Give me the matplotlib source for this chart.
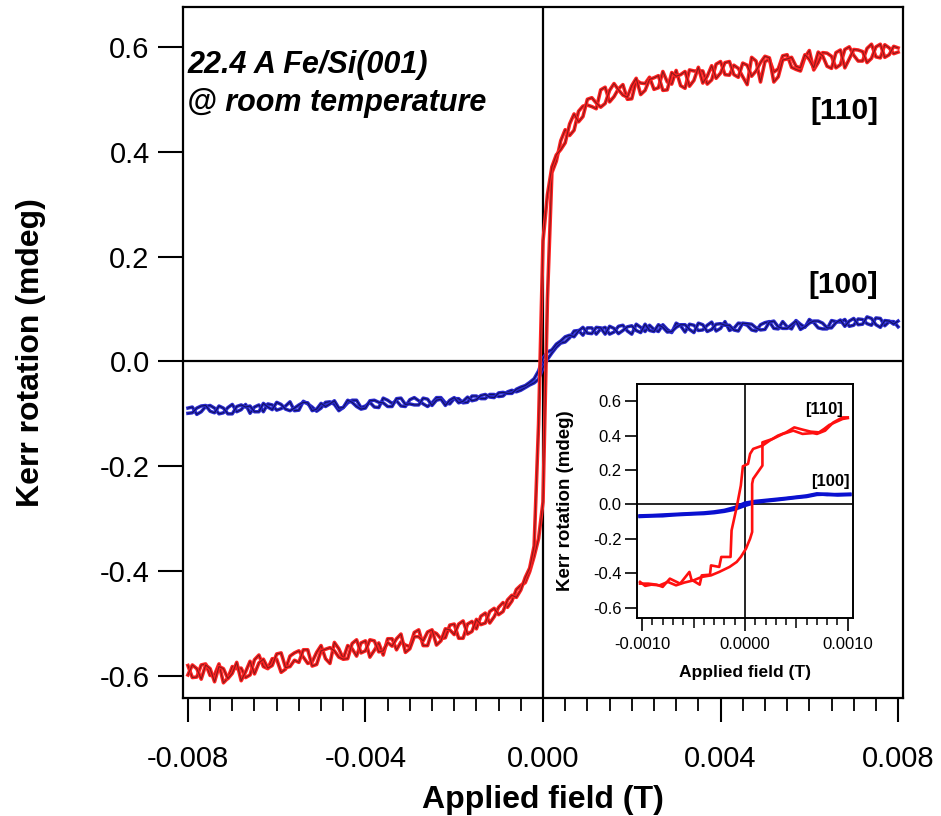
import matplotlib
matplotlib.use("Agg")
import matplotlib.pyplot as plt
import matplotlib.patheffects as pe
from matplotlib.ticker import MultipleLocator, FixedLocator

plt.rcParams["font.family"] = ["Liberation Sans", "DejaVu Sans"]

# ---------------- main panel data (field in mT) ----------------
main_field_mT = [-8.0, -7.9, -7.8, -7.7, -7.6, -7.5, -7.4, -7.3, -7.2, -7.1,
                 -7.0, -6.9, -6.8, -6.7, -6.6, -6.5, -6.4, -6.3, -6.2, -6.1,
                 -6.0, -5.9, -5.8, -5.7, -5.6, -5.5, -5.4, -5.3, -5.2, -5.1,
                 -5.0, -4.9, -4.8, -4.7, -4.6, -4.5, -4.4, -4.3, -4.2, -4.1,
                 -4.0, -3.9, -3.8, -3.7, -3.6, -3.5, -3.4, -3.3, -3.2, -3.1,
                 -3.0, -2.9, -2.8, -2.7, -2.6, -2.5, -2.4, -2.3, -2.2, -2.1,
                 -2.0, -1.9, -1.8, -1.7, -1.6, -1.5, -1.4, -1.3, -1.2, -1.1,
                 -1.0, -0.9, -0.8, -0.7, -0.6, -0.5, -0.4, -0.3, -0.2,
                 -0.1, 0.0, 0.1,
                 0.2, 0.3, 0.4, 0.5, 0.6, 0.7, 0.8, 0.9, 1.0,
                 1.1, 1.2, 1.3, 1.4, 1.5, 1.6, 1.7, 1.8, 1.9, 2.0,
                 2.1, 2.2, 2.3, 2.4, 2.5, 2.6, 2.7, 2.8, 2.9, 3.0,
                 3.1, 3.2, 3.3, 3.4, 3.5, 3.6, 3.7, 3.8, 3.9, 4.0,
                 4.1, 4.2, 4.3, 4.4, 4.5, 4.6, 4.7, 4.8, 4.9, 5.0,
                 5.1, 5.2, 5.3, 5.4, 5.5, 5.6, 5.7, 5.8, 5.9, 6.0,
                 6.1, 6.2, 6.3, 6.4, 6.5, 6.6, 6.7, 6.8, 6.9, 7.0,
                 7.1, 7.2, 7.3, 7.4, 7.5, 7.6, 7.7, 7.8, 7.9, 8.0]

red110_up = [-0.580, -0.603, -0.602, -0.579, -0.577, -0.599, -0.598, -0.577, -0.613, -0.604,
             -0.582, -0.586, -0.585, -0.603, -0.598, -0.569, -0.560, -0.582, -0.586, -0.567,
             -0.568, -0.593, -0.587, -0.562, -0.556, -0.552, -0.564, -0.576, -0.573, -0.555,
             -0.542, -0.567, -0.576, -0.536, -0.548, -0.567, -0.542, -0.548, -0.562, -0.537,
             -0.533, -0.564, -0.551, -0.537, -0.560, -0.529, -0.529, -0.550, -0.535, -0.541,
             -0.544, -0.517, -0.512, -0.542, -0.542, -0.515, -0.519, -0.529, -0.527, -0.503,
             -0.501, -0.528, -0.528, -0.501, -0.496, -0.510, -0.486, -0.480, -0.499, -0.487,
             -0.469, -0.460, -0.469, -0.457, -0.435, -0.427, -0.422, -0.401, -0.372,
             -0.338, -0.268, 0.120,
             0.360, 0.382, 0.421, 0.442, 0.431, 0.441, 0.477, 0.487, 0.489,
             0.486, 0.482, 0.518, 0.523, 0.495, 0.505, 0.520, 0.528, 0.500, 0.501,
             0.536, 0.531, 0.530, 0.542, 0.519, 0.522, 0.553, 0.533, 0.529, 0.555,
             0.526, 0.521, 0.556, 0.554, 0.554, 0.554, 0.529, 0.537, 0.567, 0.572,
             0.547, 0.546, 0.565, 0.559, 0.543, 0.528, 0.580, 0.573, 0.533, 0.572,
             0.576, 0.552, 0.558, 0.583, 0.585, 0.561, 0.557, 0.554, 0.580, 0.593,
             0.556, 0.570, 0.589, 0.588, 0.582, 0.560, 0.566, 0.595, 0.600, 0.584,
             0.573, 0.573, 0.597, 0.605, 0.581, 0.579, 0.604, 0.598, 0.587, 0.590]

red110_down = [-0.598, -0.579, -0.586, -0.606, -0.579, -0.586, -0.611, -0.582, -0.586, -0.605,
               -0.595, -0.574, -0.609, -0.592, -0.572, -0.596, -0.575, -0.568, -0.585, -0.580,
               -0.558, -0.556, -0.584, -0.582, -0.570, -0.574, -0.550, -0.550, -0.581, -0.578,
               -0.552, -0.549, -0.546, -0.552, -0.564, -0.568, -0.567, -0.538, -0.531, -0.556,
               -0.552, -0.531, -0.533, -0.554, -0.552, -0.536, -0.543, -0.529, -0.520, -0.555,
               -0.548, -0.525, -0.525, -0.533, -0.516, -0.512, -0.541, -0.533, -0.510, -0.512,
               -0.521, -0.501, -0.495, -0.520, -0.515, -0.492, -0.502, -0.499, -0.477, -0.471,
               -0.483, -0.477, -0.455, -0.446, -0.450, -0.436, -0.412, -0.394, -0.352,
               -0.120, 0.230, 0.318,
               0.371, 0.394, 0.404, 0.417, 0.453, 0.472, 0.457, 0.467, 0.500,
               0.503, 0.493, 0.485, 0.492, 0.517, 0.530, 0.518, 0.508, 0.504, 0.526,
               0.540, 0.509, 0.517, 0.538, 0.541, 0.545, 0.517, 0.518, 0.551, 0.544,
               0.547, 0.553, 0.525, 0.536, 0.561, 0.531, 0.544, 0.564, 0.540, 0.550,
               0.570, 0.572, 0.547, 0.542, 0.569, 0.565, 0.544, 0.554, 0.570, 0.582,
               0.579, 0.533, 0.543, 0.575, 0.577, 0.580, 0.563, 0.560, 0.585, 0.576,
               0.560, 0.590, 0.583, 0.563, 0.559, 0.589, 0.594, 0.560, 0.577, 0.595,
               0.594, 0.591, 0.570, 0.578, 0.600, 0.605, 0.580, 0.585, 0.601, 0.598]

blue100_up = [-0.089, -0.087, -0.101, -0.096, -0.086, -0.084, -0.089, -0.100, -0.098, -0.088,
              -0.082, -0.096, -0.092, -0.082, -0.099, -0.087, -0.083, -0.096, -0.081, -0.083,
              -0.093, -0.090, -0.085, -0.077, -0.094, -0.093, -0.076, -0.081, -0.087, -0.095,
              -0.089, -0.078, -0.077, -0.082, -0.094, -0.088, -0.079, -0.074, -0.074, -0.088,
              -0.085, -0.078, -0.087, -0.088, -0.070, -0.074, -0.080, -0.075, -0.085, -0.086,
              -0.073, -0.069, -0.075, -0.081, -0.086, -0.079, -0.069, -0.069, -0.079, -0.081,
              -0.071, -0.071, -0.079, -0.078, -0.066, -0.066, -0.071, -0.071, -0.063, -0.063,
              -0.067, -0.066, -0.058, -0.055, -0.058, -0.055, -0.050, -0.045, -0.041,
              -0.034, -0.012, 0.004,
              0.016, 0.027, 0.035, 0.037, 0.045, 0.058, 0.059, 0.050, 0.064,
              0.064, 0.052, 0.062, 0.065, 0.052, 0.056, 0.067, 0.069, 0.058, 0.052,
              0.071, 0.065, 0.057, 0.069, 0.061, 0.057, 0.070, 0.061, 0.055, 0.073,
              0.068, 0.056, 0.071, 0.069, 0.059, 0.060, 0.069, 0.075, 0.058, 0.063,
              0.076, 0.059, 0.063, 0.073, 0.072, 0.069, 0.060, 0.058, 0.070, 0.074,
              0.076, 0.063, 0.062, 0.076, 0.066, 0.062, 0.078, 0.071, 0.065, 0.080,
              0.074, 0.064, 0.062, 0.062, 0.078, 0.076, 0.075, 0.080, 0.067, 0.069,
              0.081, 0.080, 0.072, 0.069, 0.083, 0.082, 0.068, 0.076, 0.076, 0.066]

blue100_down = [-0.099, -0.098, -0.089, -0.085, -0.084, -0.095, -0.098, -0.085, -0.089, -0.100,
                -0.100, -0.086, -0.083, -0.087, -0.085, -0.096, -0.096, -0.080, -0.087, -0.092,
                -0.078, -0.082, -0.091, -0.094, -0.089, -0.083, -0.078, -0.079, -0.094, -0.091,
                -0.080, -0.086, -0.081, -0.075, -0.089, -0.088, -0.074, -0.078, -0.086, -0.091,
                -0.089, -0.075, -0.074, -0.078, -0.079, -0.086, -0.086, -0.071, -0.070, -0.082,
                -0.081, -0.083, -0.083, -0.070, -0.072, -0.084, -0.074, -0.072, -0.084, -0.074,
                -0.069, -0.079, -0.076, -0.068, -0.075, -0.073, -0.065, -0.063, -0.068, -0.069,
                -0.060, -0.059, -0.061, -0.061, -0.053, -0.049, -0.046, -0.040, -0.033,
                -0.018, 0.006, 0.018,
                0.022, 0.033, 0.039, 0.047, 0.050, 0.047, 0.058, 0.065, 0.054,
                0.053, 0.065, 0.064, 0.052, 0.067, 0.063, 0.053, 0.059, 0.066, 0.068,
                0.059, 0.055, 0.071, 0.059, 0.057, 0.070, 0.065, 0.056, 0.057, 0.065,
                0.070, 0.070, 0.061, 0.055, 0.073, 0.070, 0.057, 0.061, 0.071, 0.072,
                0.069, 0.069, 0.060, 0.058, 0.073, 0.072, 0.071, 0.064, 0.060, 0.061,
                0.075, 0.077, 0.066, 0.063, 0.063, 0.070, 0.077, 0.061, 0.066, 0.073,
                0.077, 0.077, 0.073, 0.064, 0.064, 0.074, 0.079, 0.067, 0.077, 0.082,
                0.070, 0.071, 0.085, 0.082, 0.070, 0.065, 0.078, 0.077, 0.071, 0.077]

main_xticks = [-8, -4, 0, 4, 8]
main_xtick_labels = ["-0.008", "-0.004", "0.000", "0.004", "0.008"]
main_yticks = [-0.6, -0.4, -0.2, 0.0, 0.2, 0.4, 0.6]
main_ytick_labels = ["-0.6", "-0.4", "-0.2", "0.0", "0.2", "0.4", "0.6"]

# ---------------- inset data (field in mT) ----------------
inset_red_up_field = [-1.02, -0.97, -0.91, -0.83, -0.75, -0.67, -0.59, -0.50, -0.42, -0.33,
                      -0.25, -0.15, -0.08, -0.04, 0.01, 0.05, 0.07, 0.07, 0.08, 0.17,
                      0.17, 0.27, 0.37, 0.47, 0.56, 0.66, 0.70, 0.78, 0.86, 0.95, 1.00]
inset_red_up_kerr = [-0.450, -0.473, -0.466, -0.470, -0.450, -0.470, -0.454, -0.441, -0.421, -0.412,
                     -0.392, -0.363, -0.334, -0.305, -0.257, -0.199, -0.160, 0.120, 0.149, 0.226,
                     0.361, 0.381, 0.410, 0.429, 0.410, 0.415, 0.410, 0.429, 0.477, 0.506, 0.506]

inset_red_down_field = [1.00, 0.95, 0.89, 0.82, 0.77, 0.72, 0.64, 0.56, 0.48, 0.40,
                        0.32, 0.24, 0.17, 0.08, 0.05, 0.03, -0.02, -0.04, -0.08, -0.13,
                        -0.14, -0.23, -0.25, -0.33, -0.34, -0.42, -0.44, -0.52, -0.54, -0.63,
                        -0.73, -0.80, -0.86, -0.94, -1.02]
inset_red_down_kerr = [0.502, 0.497, 0.481, 0.462, 0.439, 0.419, 0.423, 0.435, 0.448, 0.419,
                       0.400, 0.371, 0.342, 0.323, 0.294, 0.236, 0.222, 0.110, -0.015, -0.151,
                       -0.305, -0.305, -0.363, -0.354, -0.408, -0.412, -0.466, -0.437, -0.392, -0.460,
                       -0.431, -0.479, -0.466, -0.460, -0.460]

inset_blue_field = [-1.02, -0.90, -0.80, -0.70, -0.60, -0.50, -0.40, -0.30, -0.20, -0.10,
                    0.00, 0.10, 0.20, 0.30, 0.40, 0.50, 0.60, 0.70, 0.80, 0.90, 1.02]
inset_blue_up = [-0.070, -0.067, -0.066, -0.061, -0.058, -0.055, -0.053, -0.048, -0.040, -0.028,
                 -0.006, 0.012, 0.020, 0.026, 0.033, 0.040, 0.046, 0.058, 0.060, 0.055, 0.057]
inset_blue_down = [-0.066, -0.064, -0.061, -0.058, -0.055, -0.052, -0.049, -0.043, -0.034, -0.018,
                   0.008, 0.018, 0.024, 0.030, 0.036, 0.043, 0.050, 0.062, 0.057, 0.058, 0.060]

inset_xticks = [-1, 0, 1]
inset_xtick_labels = ["-0.0010", "0.0000", "0.0010"]
inset_yticks = [-0.6, -0.4, -0.2, 0.0, 0.2, 0.4, 0.6]
inset_ytick_labels = ["-0.6", "-0.4", "-0.2", "0.0", "0.2", "0.4", "0.6"]

# ---------------- figure ----------------
fig = plt.figure(figsize=(9.41, 8.16), dpi=100)
ax = fig.add_axes([0.1945, 0.1446, 0.7651, 0.8468])

RED_HALO = "#ff2222"
RED_CORE = "#8a1a1a"
BLUE_HALO = "#2a2ad0"
BLUE_CORE = "#12125e"
fx_red = [pe.Stroke(linewidth=2.6, foreground=RED_HALO), pe.Normal()]
fx_blue = [pe.Stroke(linewidth=2.5, foreground=BLUE_HALO), pe.Normal()]

ax.axhline(0, color="black", lw=1.6, zorder=1)
ax.axvline(0, color="black", lw=1.6, zorder=1)

ax.plot(main_field_mT, blue100_up, color=BLUE_CORE, lw=0.8, path_effects=fx_blue, zorder=2)
ax.plot(main_field_mT, blue100_down, color=BLUE_CORE, lw=0.8, path_effects=fx_blue, zorder=2)
ax.plot(main_field_mT, red110_up, color=RED_CORE, lw=0.8, path_effects=fx_red, zorder=3)
ax.plot(main_field_mT, red110_down, color=RED_CORE, lw=0.8, path_effects=fx_red, zorder=3)

ax.set_xlim(-8.11, 8.11)
ax.set_ylim(-0.642, 0.676)
ax.set_xticks(main_xticks)
ax.set_xticklabels(main_xtick_labels)
ax.xaxis.set_minor_locator(MultipleLocator(0.5))
ax.set_yticks(main_yticks)
ax.set_yticklabels(main_ytick_labels)

for s in ax.spines.values():
    s.set_linewidth(1.6)
ax.tick_params(axis="x", which="major", direction="out", length=17, width=1.5, pad=17, labelsize=21)
ax.tick_params(axis="x", which="minor", direction="out", length=9, width=1.3)
ax.tick_params(axis="y", which="major", direction="out", length=18, width=1.5, pad=6, labelsize=21)

ax.set_xlabel("Applied field (T)", fontsize=23, fontweight="bold")
ax.xaxis.set_label_coords(0.5, -0.126)
ax.set_ylabel("Kerr rotation (mdeg)", fontsize=23, fontweight="bold")
ax.yaxis.set_label_coords(-0.19, 0.5)

ax.text(0.006, 0.9045, "22.4 A Fe/Si(001)", transform=ax.transAxes, fontsize=22,
        fontweight="bold", fontstyle="italic", va="baseline", ha="left")
ax.text(0.006, 0.8495, "@ room temperature", transform=ax.transAxes, fontsize=22,
        fontweight="bold", fontstyle="italic", va="baseline", ha="left")
ax.text(7.55, 0.462, "[110]", fontsize=21.5, fontweight="bold", ha="right", va="baseline")
ax.text(7.55, 0.130, "[100]", fontsize=21.5, fontweight="bold", ha="right", va="baseline")

# ---------------- inset ----------------
axin = fig.add_axes([0.6769, 0.2426, 0.2295, 0.2868])
axin.set_facecolor("white")
axin.axhline(0, color="black", lw=1.2, zorder=1)
axin.axvline(0, color="black", lw=1.2, zorder=1)
axin.plot(inset_blue_field, inset_blue_up, color="#0a10d0", lw=2.5, zorder=2)
axin.plot(inset_blue_field, inset_blue_down, color="#0a10d0", lw=2.5, zorder=2)
axin.plot(inset_red_up_field, inset_red_up_kerr, color="#ff1010", lw=1.9, zorder=3)
axin.plot(inset_red_down_field, inset_red_down_kerr, color="#ff1010", lw=1.9, zorder=3)

axin.set_xlim(-1.05, 1.05)
axin.set_ylim(-0.66, 0.70)
axin.set_xticks(inset_xticks)
axin.set_xticklabels(inset_xtick_labels)
axin.xaxis.set_minor_locator(FixedLocator([-0.9, -0.8, -0.7, -0.6, -0.4, -0.3, -0.2, -0.1,
                                           0.1, 0.2, 0.3, 0.4, 0.6, 0.7, 0.8, 0.9]))
axin.set_yticks(inset_yticks)
axin.set_yticklabels(inset_ytick_labels)
for s in axin.spines.values():
    s.set_linewidth(1.4)
axin.tick_params(axis="x", which="major", direction="out", length=9, width=1.2, pad=5, labelsize=12)
axin.tick_params(axis="x", which="minor", direction="out", length=5, width=1.1)
axin.tick_params(axis="y", which="major", direction="out", length=9, width=1.2, pad=2, labelsize=12)
sec = axin.secondary_xaxis("bottom")
sec.set_xticks([-0.5, 0.5])
sec.set_xticklabels(["", ""])
sec.tick_params(direction="out", length=7, width=1.1)
sec.spines["bottom"].set_visible(False)

axin.set_xlabel("Applied field (T)", fontsize=12.5, fontweight="bold")
axin.xaxis.set_label_coords(0.5, -0.20)
axin.set_ylabel("Kerr rotation (mdeg)", fontsize=13.5, fontweight="bold")
axin.yaxis.set_label_coords(-0.29, 0.5)
axin.text(0.95, 0.528, "[110]", fontsize=12, fontweight="bold", ha="right", va="baseline")
axin.text(1.02, 0.11, "[100]", fontsize=12, fontweight="bold", ha="right", va="baseline")

fig.savefig("out.png", dpi=100, facecolor="white")
